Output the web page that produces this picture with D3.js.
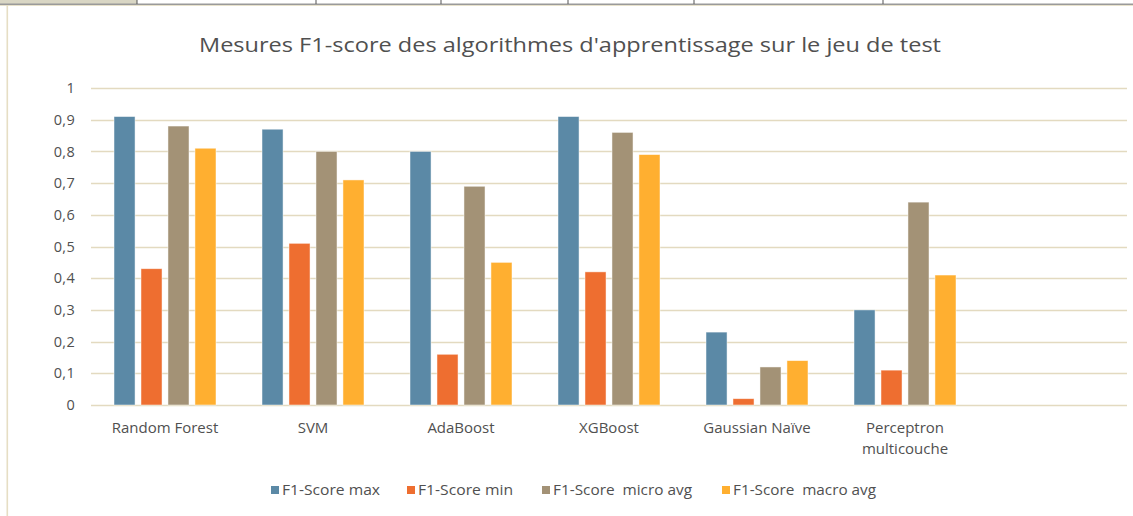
<!DOCTYPE html>
<html><head><meta charset="utf-8">
<script src="https://cdn.jsdelivr.net/npm/d3@7"></script>
<style>html,body{margin:0;padding:0;background:#fff;}svg{display:block;}</style>
</head><body>
<script>
const categories = ["Random Forest", "SVM", "AdaBoost", "XGBoost", "Gaussian Naïve", "Perceptron multicouche", ""];
const seriesNames = ["F1-Score max", "F1-Score min", "F1-Score  micro avg", "F1-Score  macro avg"];
const f1Max   = [0.91, 0.87, 0.80, 0.91, 0.23, 0.30];
const f1Min   = [0.43, 0.51, 0.16, 0.42, 0.02, 0.11];
const f1Micro = [0.88, 0.80, 0.69, 0.86, 0.12, 0.64];
const f1Macro = [0.81, 0.71, 0.45, 0.79, 0.14, 0.41];
const yTicks = [0, 0.1, 0.2, 0.3, 0.4, 0.5, 0.6, 0.7, 0.8, 0.9, 1];
const colors = ["#5B89A6", "#EE6E30", "#A39276", "#FFAF30"];
const title = "Mesures F1-score des algorithmes d'apprentissage sur le jeu de test";

const W = 1133, H = 516;
const svg = d3.select("body").append("svg").attr("width", W).attr("height", H);
const font = "'Open Sans', 'Noto Sans', sans-serif";
const textCol = "#505050";

// spreadsheet frame remnants
svg.append("rect").attr("x", 0).attr("y", 0).attr("width", 137).attr("height", 4).attr("fill", "#D9D6C4");
svg.append("rect").attr("x", 0).attr("y", 3.5).attr("width", W).attr("height", 1.5).attr("fill", "#9A9A9A");
svg.append("rect").attr("x", 0).attr("y", 5).attr("width", W).attr("height", 1).attr("fill", "#E8E2CC");
[137, 316, 441, 568, 694, 883].forEach(x => {
  svg.append("rect").attr("x", x - 0.5).attr("y", 0).attr("width", 1).attr("height", 4).attr("fill", "#555");
});
svg.append("rect").attr("x", 6.5).attr("y", 5).attr("width", 1.6).attr("height", H - 5).attr("fill", "#E6DEC4");

const x0 = d3.scaleBand().domain(categories).range([91, 1127]).paddingInner(0).paddingOuter(0);
const y = d3.scaleLinear().domain([0, 1]).range([405, 88]);

// gridlines
svg.append("g").selectAll("line").data(yTicks).join("line")
  .attr("x1", 91).attr("x2", 1127)
  .attr("y1", d => Math.round(y(d)) + 0.5).attr("y2", d => Math.round(y(d)) + 0.5)
  .attr("stroke", "#E3DAC0").attr("stroke-width", 1.6);

// y axis labels
const yAxis = d3.axisLeft(y).tickValues(yTicks).tickSize(0).tickPadding(0)
  .tickFormat(d => d3.format(".1~f")(d).replace(".", ","));
const ga = svg.append("g").attr("transform", "translate(75,0)").call(yAxis);
ga.select(".domain").remove();
ga.selectAll("text").attr("font-family", font).attr("font-size", 14.5).attr("fill", textCol)
  .attr("letter-spacing", 0.3);

// bars
const data = categories.slice(0, 6).map((c, i) => ({cat: c, vals: [f1Max[i], f1Min[i], f1Micro[i], f1Macro[i]]}));
const x1 = d3.scaleBand().domain(d3.range(4)).range([23, x0.bandwidth() - 23]).paddingInner(0.22).paddingOuter(0);
svg.append("g").selectAll("g").data(data).join("g")
  .attr("transform", d => `translate(${x0(d.cat)},0)`)
  .selectAll("rect").data(d => d.vals.map((v, k) => ({v, k}))).join("rect")
  .attr("x", d => x1(d.k)).attr("width", x1.bandwidth())
  .attr("y", d => y(d.v)).attr("height", d => y(0) - y(d.v))
  .attr("fill", d => colors[d.k]).attr("stroke", "#fff").attr("stroke-width", 0.8).attr("stroke-opacity", 0.6);

// x labels
const xl = svg.append("g");
categories.forEach(c => {
  if (!c) return;
  const cx = x0(c) + x0.bandwidth() / 2;
  const lines = c === "Perceptron multicouche" ? ["Perceptron", "multicouche"] : [c];
  lines.forEach((ln, j) => {
    xl.append("text").attr("x", cx).attr("y", 433 + j * 21).attr("text-anchor", "middle")
      .attr("font-family", font).attr("font-size", 15).attr("fill", textCol).text(ln);
  });
});

// title
svg.append("text").attr("x", 570).attr("y", 52).attr("text-anchor", "middle")
  .attr("font-family", font).attr("font-size", 20).attr("fill", textCol)
  .attr("textLength", 742).attr("lengthAdjust", "spacingAndGlyphs").text(title);

// legend
const legX = [271, 407, 542, 722];
const legEnd = [380, 513, 692, 876];
const lg = svg.append("g");
seriesNames.forEach((s, i) => {
  lg.append("rect").attr("x", legX[i]).attr("y", 486).attr("width", 8).attr("height", 8).attr("fill", colors[i]);
  lg.append("text").attr("x", legX[i] + 11).attr("y", 495).attr("font-family", font).attr("font-size", 14)
    .attr("fill", textCol).attr("xml:space", "preserve").style("white-space", "pre")
    .attr("textLength", legEnd[i] - legX[i] - 11).attr("lengthAdjust", "spacingAndGlyphs").text(s);
});
</script>
</body></html>
